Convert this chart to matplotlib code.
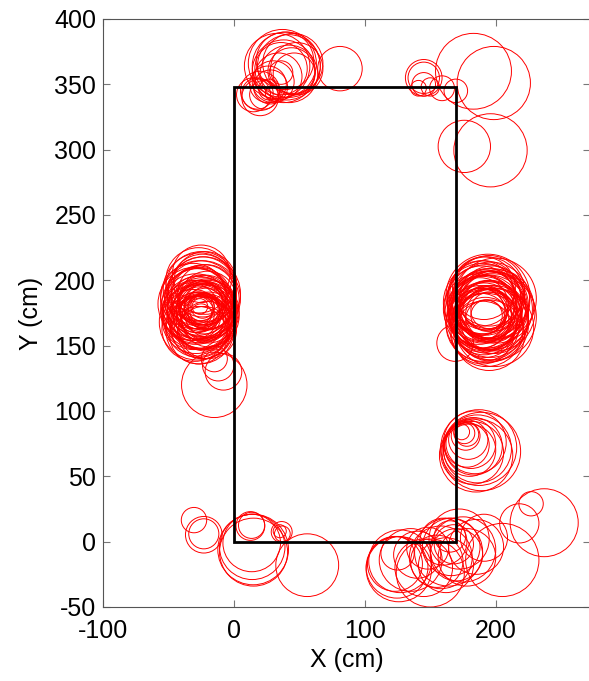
import matplotlib
matplotlib.use("Agg")
import matplotlib.pyplot as plt
from matplotlib.patches import Circle, Rectangle

plt.rcParams['font.family'] = ['Liberation Sans', 'DejaVu Sans']
plt.rcParams['axes.unicode_minus'] = False

# room outline (cm)
ROOM_W = 170
ROOM_H = 348

# circles as (x, y, radius) in cm, grouped by where they sit
top_left = [(81, 362, 17), (40, 364, 26), (38, 360, 24), (42, 358, 22), (36, 362, 20),
            (45, 366, 23), (34, 356, 18), (30, 352, 16), (36, 359, 9), (26, 350, 14),
            (18, 343, 12), (20, 345, 15), (23, 342, 11), (28, 348, 13), (44, 360, 18),
            (48, 362, 20), (33, 364, 25), (39, 368, 22), (27, 346, 8), (30, 343, 6),
            (20, 340, 14), (15, 342, 13), (42, 364, 24), (37, 366, 26), (46, 358, 16)]
top_right = [(183, 360, 29), (198.5, 351, 28), (176, 302.5, 20), (196, 299.5, 28),
             (145, 355, 14), (145, 355, 12), (145, 350, 9), (159, 347, 9.5),
             (169.5, 345, 9), (141, 347, 6), (150, 348, 7)]
left_mid = [(-25, 178, 26), (-27, 175, 28), (-22, 180, 24), (-28, 182, 27), (-24, 172, 25),
            (-26, 185, 30), (-23, 190, 28), (-25, 195, 27), (-27, 200, 25), (-24, 192, 26),
            (-22, 168, 22), (-29, 170, 26), (-30, 176, 24), (-21, 174, 20), (-26, 165, 23),
            (-23, 160, 20), (-27, 158, 22), (-24, 182, 18), (-26, 176, 15), (-25, 179, 10),
            (-24, 177, 12), (-28, 180, 20), (-20, 185, 22), (-31, 188, 25), (-25, 205, 22),
            (-22, 198, 24), (-28, 168, 29), (-26, 162, 26), (-20, 176, 24), (-33, 176, 22),
            (-24, 186, 29), (-27, 190, 21), (-23, 170, 17), (-25, 174, 8), (-26, 180, 6),
            (-29, 174, 14), (-22, 182, 16), (-18, 176, 20), (-20, 162, 22), (-30, 163, 25),
            (-24, 175, 27), (-26, 171, 24), (-21, 178, 23), (-27, 184, 26), (-23, 187, 25),
            (-29, 178, 27), (-25, 169, 21), (-22, 173, 26), (-28, 186, 23), (-24, 196, 24),
            (-26, 193, 28), (-21, 190, 22), (-30, 182, 28), (-19, 170, 21), (-27, 166, 25),
            (-24, 164, 24), (-31, 170, 23), (-23, 178, 19), (-26, 183, 17), (-25, 176, 22),
            (-28, 173, 18), (-22, 176, 13), (-27, 178, 11), (-24, 180, 9), (-20, 180, 18),
            (-15, 120, 25), (-12, 135, 12), (-8, 130, 14), (-15, 140, 10)]
right_mid = [(192, 176, 28), (195, 174, 30), (190, 178, 26), (193, 180, 32), (188, 172, 24),
             (196, 170, 29), (194, 182, 27), (191, 168, 25), (197, 178, 31), (189, 185, 26),
             (193, 190, 28), (195, 165, 26), (190, 160, 24), (198, 172, 33), (192, 175, 20),
             (194, 178, 22), (196, 184, 30), (200, 176, 30), (189, 176, 18), (193, 162, 28),
             (195, 158, 27), (199, 164, 30), (191, 194, 24), (194, 188, 32), (188, 180, 22),
             (192, 170, 15), (197, 186, 25), (201, 180, 28), (190, 166, 28), (196, 176, 24),
             (193, 173, 12), (199, 170, 26), (187, 178, 27), (195, 192, 27), (200, 186, 31),
             (191, 172, 26), (194, 170, 23), (192, 183, 25), (190, 174, 29), (196, 180, 27),
             (189, 169, 21), (193, 177, 30), (197, 166, 28), (191, 187, 28), (195, 171, 25),
             (192, 179, 17), (188, 174, 20), (194, 185, 22), (190, 183, 30), (198, 181, 26),
             (192, 164, 23), (196, 174, 19), (193, 168, 31), (189, 190, 25), (195, 177, 14),
             (169, 152, 14)]
right_low = [(189, 69, 30), (186, 71, 26), (183, 73, 22), (181, 75, 19), (179, 78, 15),
             (177, 81, 11), (176, 83, 8), (174, 84, 6), (185, 66, 28), (182, 68, 24),
             (180, 70, 20), (184, 76, 24), (187, 72, 29), (178, 74, 17), (178, 82, 9)]
bottom_left = [(-30.5, 16.5, 9.7), (-23, 5.3, 14), (-23, 6, 11.5), (14.7, -6, 27),
               (13.6, -1, 22), (14, -4, 25), (12.6, 12, 11), (13.5, 12.5, 10),
               (36.5, 7.4, 8), (37, 6, 6), (35, 8, 5), (56, -18, 24), (15, -8, 26)]
bottom_right = [(237, 14.5, 26), (227, 29, 9.3), (218, 14, 15), (205, -14, 28),
                (124.6, -19.6, 23.6), (125, -9, 12.7), (123, -17, 21), (127, -15, 24),
                (126, -21, 25), (150, -24, 26), (145, -20, 22), (155, -15, 20),
                (166, -4, 22), (164, -8, 26), (160, 0, 18), (168, -2, 15), (170, -10, 20),
                (158, -12, 24), (175, -6, 25), (191, 3, 18), (185, -4, 21), (172, 2, 23),
                (140, -10, 18), (148, -5, 16), (162, -18, 21), (178, -12, 22),
                (165, 4, 12), (135, -14, 24)]

X_TICKS = [-100, 0, 100, 200]
Y_TICKS = [-50, 0, 50, 100, 150, 200, 250, 300, 350, 400]

fig = plt.figure(figsize=(5.89, 6.81), dpi=100)
ax = fig.add_axes([103 / 589, 74 / 681, 487 / 589, 588 / 681])

for group in [top_left, top_right, left_mid, right_mid, right_low, bottom_left, bottom_right]:
    for x, y, r in group:
        ax.add_patch(Circle((x, y), r, fill=False, edgecolor='red', linewidth=0.7))

ax.add_patch(Rectangle((0, 0), ROOM_W, ROOM_H, fill=False, edgecolor='black', linewidth=2))

ax.set_xlim(-100, 272)
ax.set_ylim(-50, 400)
ax.set_xticks(X_TICKS)
ax.set_yticks(Y_TICKS)
ax.tick_params(direction='in', length=5, color='#777777', labelsize=18,
               top=True, right=True)
ax.tick_params(axis='x', pad=9)
ax.tick_params(axis='y', pad=5)
for s in ax.spines.values():
    s.set_color('#555555')
    s.set_linewidth(0.8)

ax.set_xlabel("X (cm)", fontsize=18, labelpad=3)
ax.set_ylabel("Y (cm)", fontsize=18, labelpad=8)

fig.savefig("out.png", dpi=100)
